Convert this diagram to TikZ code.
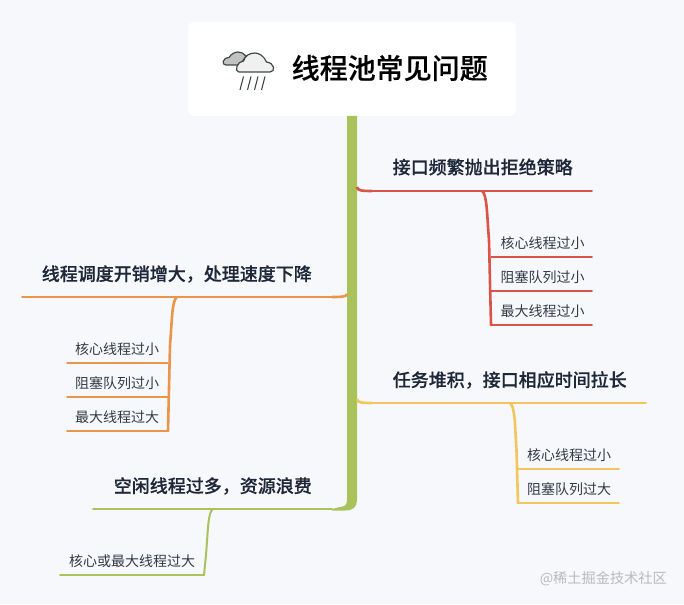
\documentclass[tikz,border=0pt]{standalone}
\usepackage{fontspec}
\setmainfont{Noto Sans CJK SC}
\newfontfamily\headfont[FakeBold=0.3]{Noto Sans CJK SC Medium}
\newcommand\zhcomma{^^^^ff0c}
\usetikzlibrary{positioning}
\definecolor{pagebg}{HTML}{F7F8FB}
\definecolor{mapgreen}{HTML}{A9C25A}
\definecolor{mapred}{HTML}{D9544A}
\definecolor{maporange}{HTML}{E9964A}
\definecolor{mapyellow}{HTML}{F2C65C}
\definecolor{headink}{HTML}{1E2838}
\definecolor{leafink}{HTML}{333B47}
\definecolor{iconink}{HTML}{3F4749}
\tikzset{
  headtext/.style={inner sep=0pt,text=headink,font=\fontsize{18}{18}\selectfont\headfont},
  leaftext/.style={inner sep=0pt,text=leafink,font=\fontsize{14}{14}\selectfont},
  edge/.style={line width=1.9pt,line cap=round},
  spine/.style={line width=2.6pt,line cap=round,rounded corners=3pt},
  stub/.style={line width=2.6pt}
}

\begin{document}
\begin{tikzpicture}[x=1pt,y=-1pt]
\fill[pagebg] (0,0) rectangle (684,604); %%
\useasboundingbox (0,0) rectangle (684,604); %%
\node[fill=white,rounded corners=5pt,minimum width=328pt,minimum height=94pt,inner sep=0pt] (rootbox) at (352,69) {}; %%
\node[anchor=west,inner sep=0pt,text=black,font=\fontsize{28}{28}\selectfont\headfont] (root) at (291.5,68) {线程池常见问题}; %%
% cloud icon
\draw[iconink,fill=black!24!white,line width=1.2pt] (226,65) .. controls (221.5,65) and (222,58) .. (229,57.5) .. controls (231,54) and (235,52) .. (238,52) .. controls (241,52) and (244,53.5) .. (246,56) -- (240,65) -- cycle; %%
\draw[iconink,fill=black!6!white,line width=1.2pt] (239,72) -- (270,72) .. controls (275.5,72) and (275,63) .. (266.5,62) .. controls (264,56) and (259,53) .. (255,53) .. controls (249,53) and (245,56) .. (243.5,61) .. controls (237,61) and (234,72) .. (239,72) -- cycle; %%
\draw[iconink,line width=1.1pt] (243.5,76.5) -- (240,90); %%
\draw[iconink,line width=1.1pt] (251,76.5) -- (247.5,90); %%
\draw[iconink,line width=1.1pt] (258,76.5) -- (254.5,90); %%
\draw[iconink,line width=1.1pt] (265,76.5) -- (261.5,90); %%
% trunk
\coordinate (trunkend) at (332,509); %%
\fill[mapgreen] (347,116) -- (347,500) .. controls (347,505) and (345,506.5) .. (340,507) -- (trunkend) -- (332,510.5) -- (345,510.5) .. controls (353,510.5) and (357,507) .. (357,500) -- (357,116) -- cycle; %%
% labels
\node[headtext,anchor=west] (red) at (392.5,167) {接口频繁抛出拒绝策略}; %%
\node[headtext,anchor=west] (yellow) at (392.5,380) {任务堆积\zhcomma 接口相应时间拉长}; %%
\node[headtext,anchor=east] (orange) at (312,274) {线程调度开销增大\zhcomma 处理速度下降}; %%
\node[headtext,anchor=east] (green) at (312,486) {空闲线程过多\zhcomma 资源浪费}; %%
\node[leaftext,anchor=west] (red1) at (500.5,243) {核心线程过小}; %%
\node[leaftext,anchor=west] (red2) at (500.5,277) {阻塞队列过小}; %%
\node[leaftext,anchor=west] (red3) at (500.5,311) {最大线程过小}; %%
\node[leaftext,anchor=west] (orange1) at (75,349) {核心线程过小}; %%
\node[leaftext,anchor=west] (orange2) at (75,383) {阻塞队列过小}; %%
\node[leaftext,anchor=west] (orange3) at (75,417) {最大线程过大}; %%
\node[leaftext,anchor=west] (yellow1) at (527,455) {核心线程过小}; %%
\node[leaftext,anchor=west] (yellow2) at (527,489) {阻塞队列过大}; %%
\node[leaftext,anchor=west] (green1) at (69,561) {核心或最大线程过大}; %%
\node[anchor=east,inner sep=0pt,text=black!27!white,font=\fontsize{14.2}{14}\selectfont] (mark) at (667,579) {@稀土掘金技术社区}; %%
% red branch
\coordinate (r0) at (357,187); \coordinate (r1) at (372,191); \coordinate (rs) at (482,191); \coordinate (re) at (592,191); %%
\coordinate (ra) at (491,257); \coordinate (rb) at (491,291); \coordinate (rc) at (491,325); \coordinate (rx) at (592,257); \coordinate (ry) at (592,291); \coordinate (rz) at (592,325); %%
\draw[stub,mapred] (r0) .. controls (357.5,190.5) and (361,191) .. (r1); %%
\draw[edge,mapred] (r1) -- (re); %%
\draw[edge,mapred] (ra) -- (rx); %%
\draw[edge,mapred] (rb) -- (ry); %%
\draw[edge,mapred] (rc) -- (rz); %%
\draw[spine,mapred] (rs) .. controls (487,194) and (487,215) .. (489,240) -- (rc); %%
% yellow branch
\coordinate (y0) at (357,399); \coordinate (y1) at (372,403); \coordinate (ys) at (510,403); \coordinate (ye) at (646,403); %%
\coordinate (ya) at (518,469); \coordinate (yb) at (518,503); \coordinate (yx) at (619,469); \coordinate (yy) at (619,503); %%
\draw[stub,mapyellow] (y0) .. controls (357.5,402.5) and (361,403) .. (y1); %%
\draw[edge,mapyellow] (y1) -- (ye); %%
\draw[edge,mapyellow] (ya) -- (yx); %%
\draw[edge,mapyellow] (yb) -- (yy); %%
\draw[spine,mapyellow] (ys) .. controls (515,406) and (515,427) .. (516.5,450) -- (yb); %%
% orange branch
\coordinate (o0) at (347,294); \coordinate (o1) at (332,297); \coordinate (os) at (177,297); \coordinate (oe) at (22,297); %%
\coordinate (oa) at (168,363); \coordinate (ob) at (168,397); \coordinate (oc) at (168,431); \coordinate (ox) at (67,363); \coordinate (oy) at (67,397); \coordinate (oz) at (67,431); %%
\draw[stub,maporange] (o0) .. controls (346.5,296.5) and (343,297) .. (o1); %%
\draw[edge,maporange] (o1) -- (oe); %%
\draw[edge,maporange] (oa) -- (ox); %%
\draw[edge,maporange] (ob) -- (oy); %%
\draw[edge,maporange] (oc) -- (oz); %%
\draw[spine,maporange] (os) .. controls (172,300) and (172,320) .. (170,345) -- (oc); %%
% green branch
\coordinate (gs) at (213,509); \coordinate (ge) at (93,509); \coordinate (ga) at (204,575); \coordinate (gx) at (60,575); %%
\draw[edge,mapgreen] (trunkend) -- (ge); %%
\draw[edge,mapgreen] (ga) -- (gx); %%
\draw[line width=2pt,line cap=round,rounded corners=3pt,mapgreen] (gs) .. controls (208,512) and (208,530) .. (206,555) -- (ga); %%
\end{tikzpicture}
\end{document}
